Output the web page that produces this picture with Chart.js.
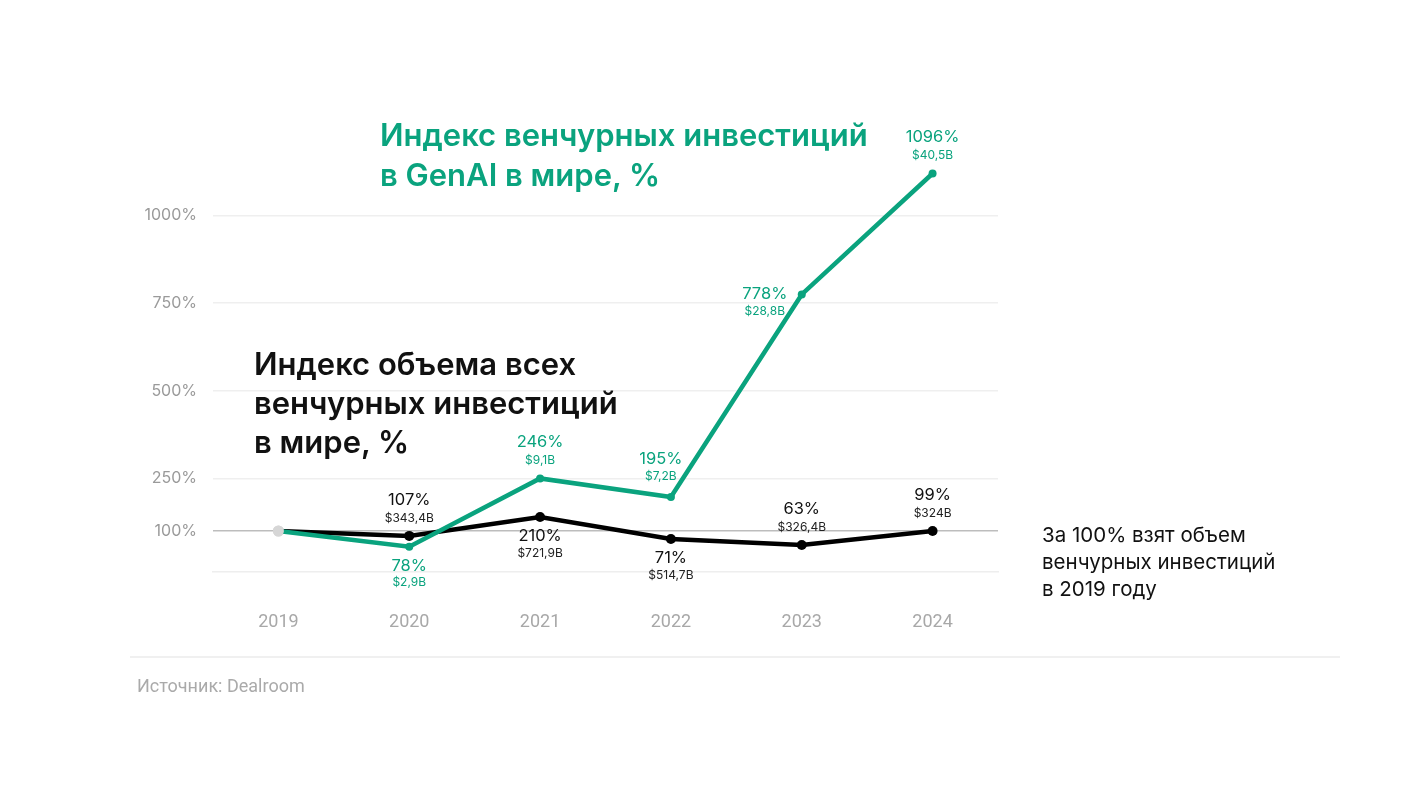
<!DOCTYPE html>
<html>
<head>
<meta charset="utf-8">
<script src="https://cdn.jsdelivr.net/npm/chart.js@4.4.1/dist/chart.umd.min.js"></script>
<style>
  html, body { margin: 0; padding: 0; background: #fff; }
  #wrap { position: relative; width: 1421px; height: 788px; overflow: hidden; }
  #chart { position: absolute; left: 0; top: 0; }
  .txt { position: absolute; white-space: nowrap; }
  .title-green { left: 380px; top: 115px; color: #0aa37e; font: 600 31px/40px Inter, sans-serif; }
  .title-black { left: 254px; top: 344px; color: #111; font: 600 31px/39px Inter, sans-serif; }
  .note { left: 1042px; top: 521px; color: #111; font: 400 20.5px/27px Inter, sans-serif; }
  .source { left: 137px; top: 675px; color: #aaa; font: 400 18px/22px "Liberation Sans Narrow", "Roboto", sans-serif; }
  .sep { position: absolute; left: 130px; top: 656px; width: 1210px; height: 2px; background: #f0f0f0; }
</style>
</head>
<body>
<div id="wrap">
  <canvas id="chart" width="1421" height="788"></canvas>
  <div class="txt title-green">Индекс венчурных инвестиций<br>в GenAI в мире, %</div>
  <div class="txt title-black">Индекс объема всех<br>венчурных инвестиций<br>в мире, %</div>
  <div class="txt note">За 100% взят объем<br>венчурных инвестиций<br>в 2019 году</div>
  <div class="sep"></div>
  <div class="txt source">Источник: Dealroom</div>
</div>
<script>
console.log("chart loaded");

// data
const years = ['2019', '2020', '2021', '2022', '2023', '2024'];
const yTicks = [100, 250, 500, 750, 1000];

// GenAI index: line as drawn, labels as printed
const genaiIndex = [100, 55, 250, 197, 775, 1120];
const genaiPct = [null, 78, 246, 195, 778, 1096];
const genaiAmount = [null, '$2,9B', '$9,1B', '$7,2B', '$28,8B', '$40,5B'];
const genaiLabelSide = [null, 'down', 'up', 'upleft', 'left', 'up'];

// all venture investments (line as drawn, labels are year-on-year)
const allIndex = [100, 86, 140, 77, 60, 100];
const allPct = [null, 107, 210, 71, 63, 99];
const allAmount = [null, '$343,4B', '$721,9B', '$514,7B', '$326,4B', '$324B'];
const allLabelSide = [null, 'up', 'down', 'down', 'up', 'up'];

const GREEN = '#0aa37e';
const BLACK = '#000000';
const START = '#d6d6d6';

const labelFont = 'Inter, sans-serif';

const pointLabels = {
    id: 'pointLabels',
    afterDatasetsDraw(chart) {
        const ctx = chart.ctx;
        chart.data.datasets.forEach((ds, di) => {
            const meta = chart.getDatasetMeta(di);
            meta.data.forEach((pt, i) => {
                const side = ds.labelSide[i];
                if (!side) return;
                let x = pt.x, y1, y2;
                if (side === 'up') { y1 = pt.y - 36; y2 = pt.y - 18; }
                else if (side === 'down') { y1 = pt.y + 19; y2 = pt.y + 36; }
                else if (side === 'upleft') { x = pt.x - 10; y1 = pt.y - 38; y2 = pt.y - 21; }
                else { x = pt.x - 37; y1 = pt.y; y2 = pt.y + 17; }
                ctx.save();
                ctx.textAlign = 'center';
                ctx.textBaseline = 'middle';
                ctx.fillStyle = ds.pctColor;
                ctx.font = '400 16.5px ' + labelFont;
                ctx.fillText(ds.pctLabels[i] + '%', x, y1);
                ctx.fillStyle = ds.amtColor;
                ctx.font = '400 12px ' + labelFont;
                ctx.fillText(ds.amtLabels[i], x, y2);
                ctx.restore();
            });
        });
    }
};

const ctx = document.getElementById('chart').getContext('2d');
new Chart(ctx, {
    type: 'line',
    data: {
        labels: years,
        datasets: [{
            label: 'GenAI',
            data: genaiIndex,
            borderColor: GREEN,
            borderWidth: 4.5,
            pointRadius: c => c.dataIndex === 0 ? 5.5 : 4,
            pointBackgroundColor: c => c.dataIndex === 0 ? START : GREEN,
            pointBorderWidth: 0,
            fill: false,
            tension: 0,
            pctLabels: genaiPct,
            amtLabels: genaiAmount,
            labelSide: genaiLabelSide,
            pctColor: GREEN,
            amtColor: GREEN
        }, {
            label: 'Все',
            data: allIndex,
            borderColor: BLACK,
            borderWidth: 4.5,
            pointRadius: c => c.dataIndex === 0 ? 5.5 : 5,
            pointBackgroundColor: c => c.dataIndex === 0 ? START : BLACK,
            pointBorderWidth: 0,
            fill: false,
            tension: 0,
            pctLabels: allPct,
            amtLabels: allAmount,
            labelSide: allLabelSide,
            pctColor: '#111',
            amtColor: '#222'
        }]
    },
    options: {
        responsive: false,
        devicePixelRatio: 1,
        animation: false,
        layout: { padding: { left: 133, right: 423, top: 163, bottom: 146 } },
        plugins: { legend: { display: false }, tooltip: { enabled: false } },
        scales: {
            x: {
                offset: true,
                afterFit: s => { s.height = 70; },
                grid: { display: false, drawTicks: false },
                border: { display: true, color: '#eeeeee', width: 1.5 },
                ticks: {
                    padding: 40,
                    color: '#a8a8a8',
                    font: { family: '"Liberation Sans Narrow", Roboto, sans-serif', size: 18 }
                }
            },
            y: {
                min: -17,
                max: 1150,
                afterFit: s => { s.width = 80; },
                afterBuildTicks: s => { s.ticks = yTicks.map(v => ({ value: v })); },
                grid: {
                    drawTicks: false,
                    color: c => c.tick && c.tick.value === 100 ? '#bdbdbd' : '#efefef',
                    lineWidth: 1.5
                },
                border: { display: false },
                ticks: {
                    padding: 16,
                    color: '#9a9a9a',
                    font: { family: labelFont, size: 16 },
                    callback: v => v + '%'
                }
            }
        }
    },
    plugins: [pointLabels]
});
</script>
</body>
</html>
